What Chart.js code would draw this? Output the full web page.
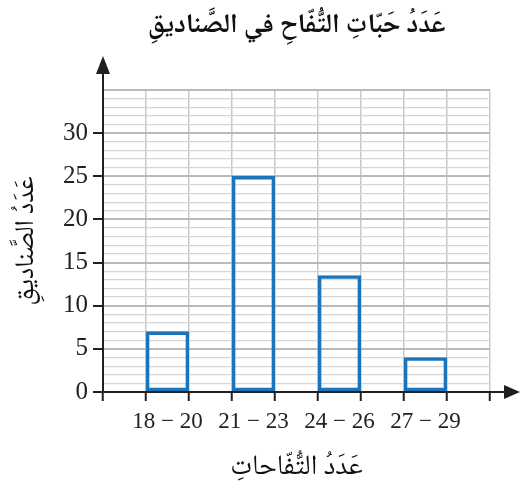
<!DOCTYPE html>
<html>
<head>
<meta charset="utf-8">
<script src="https://cdn.jsdelivr.net/npm/chart.js@4"></script>
<style>
html,body{margin:0;padding:0;background:#fff;}
#wrap{width:520px;height:495px;position:relative;}
</style>
</head>
<body>
<div id="wrap"><canvas id="c" width="520" height="495"></canvas></div>
<script>
const chartTitle = 'عَدَدُ حَبّاتِ التُّفّاحِ في الصَّناديقِ';
const xTitle = 'عَدَدُ التُّفّاحاتِ';
const yTitle = 'عَدَدُ الصَّناديقِ';
const categories = ['18 − 20', '21 − 23', '24 − 26', '27 − 29'];
const boxCounts = [7, 25, 13.5, 4];
const yMax = 35;
const yLabelMax = 30;
const yMajorStep = 5;

// build slots: gap, bar, gap, bar, ... gap
const slotLabels = [''];
const slotValues = [null];
categories.forEach((c, i) => {
  slotLabels.push(c); slotValues.push(boxCounts[i]);
  slotLabels.push(''); slotValues.push(null);
});

const AXIS = '#231f20';
const BLUE = '#1b75bc';
const AR_FONT = '"Noto Naskh Arabic", "Noto Sans Arabic", "DejaVu Sans", sans-serif';

const arrowPlugin = {
  id: 'arrows',
  afterDraw(chart) {
    const {ctx, chartArea} = chart;
    const x0 = chartArea.left, y0 = chartArea.bottom;
    ctx.save();
    ctx.strokeStyle = AXIS; ctx.fillStyle = AXIS; ctx.lineWidth = 2;
    // y axis
    ctx.beginPath(); ctx.moveTo(x0, y0 + 1); ctx.lineTo(x0, chartArea.top - 18); ctx.stroke();
    ctx.beginPath();
    ctx.moveTo(x0, chartArea.top - 34);
    ctx.lineTo(x0 - 7, chartArea.top - 16);
    ctx.lineTo(x0 + 7, chartArea.top - 16);
    ctx.closePath(); ctx.fill();
    // x axis
    ctx.beginPath(); ctx.moveTo(x0 - 7, y0); ctx.lineTo(chartArea.right + 16, y0); ctx.stroke();
    ctx.beginPath();
    ctx.moveTo(chartArea.right + 30, y0);
    ctx.lineTo(chartArea.right + 14, y0 - 7);
    ctx.lineTo(chartArea.right + 14, y0 + 7);
    ctx.closePath(); ctx.fill();
    ctx.restore();
  }
};

new Chart(document.getElementById('c'), {
  type: 'bar',
  data: {
    labels: slotLabels,
    datasets: [{
      data: slotValues,
      backgroundColor: 'rgba(0,0,0,0)',
      borderColor: BLUE,
      borderWidth: 3,
      borderSkipped: false,
      categoryPercentage: 1,
      barPercentage: 1
    }]
  },
  options: {
    responsive: false,
    animation: false,
    layout: { padding: { left: 0, right: 30, top: 0, bottom: 0 } },
    plugins: {
      legend: { display: false },
      tooltip: { enabled: false },
      title: {
        display: true,
        text: chartTitle,
        fullSize: false,
        color: '#111',
        font: { family: AR_FONT, size: 27, weight: 'bold', lineHeight: 1.2 },
        padding: { top: 12, bottom: 45.6 }
      }
    },
    scales: {
      x: {
        grid: {
          offset: true,
          color: '#c8c8c8',
          lineWidth: 1.5,
          drawTicks: true,
          tickLength: 9,
          tickColor: AXIS,
          tickWidth: 2
        },
        border: { display: true, color: AXIS, width: 2 },
        ticks: {
          color: '#222',
          padding: 7,
          autoSkip: false,
          maxRotation: 0,
          font: { family: 'Liberation Serif', size: 23 }
        },
        title: {
          display: true,
          text: xTitle,
          color: '#111',
          font: { family: AR_FONT, size: 28, lineHeight: 1.2 },
          padding: { top: 0, bottom: 8 }
        },
        afterFit(scale) { scale.height = 103; }
      },
      y: {
        min: 0,
        max: yMax,
        grid: {
          color: c => (c.tick && c.tick.value % yMajorStep === 0) ? '#b9b9bb' : '#d6d6d6',
          lineWidth: c => (c.tick && c.tick.value % yMajorStep === 0) ? 2 : 1.2,
          drawTicks: true,
          tickLength: 10,
          tickColor: c => (c.tick && c.tick.value % yMajorStep === 0 && c.tick.value <= yLabelMax) ? AXIS : 'rgba(0,0,0,0)',
          tickWidth: 2
        },
        border: { display: true, color: AXIS, width: 2 },
        ticks: {
          stepSize: 1,
          autoSkip: false,
          color: '#222',
          padding: 5,
          font: { family: 'Liberation Serif', size: 25 },
          callback: v => (v % yMajorStep === 0 && v <= yLabelMax) ? String(v) : ''
        },
        title: {
          display: true,
          text: yTitle,
          color: '#111',
          font: { family: AR_FONT, size: 27, lineHeight: 1.2 },
          padding: { top: 13, bottom: 0 }
        },
        afterFit(scale) { scale.width = 103; }
      }
    }
  },
  plugins: [arrowPlugin]
});
</script>
</body>
</html>
